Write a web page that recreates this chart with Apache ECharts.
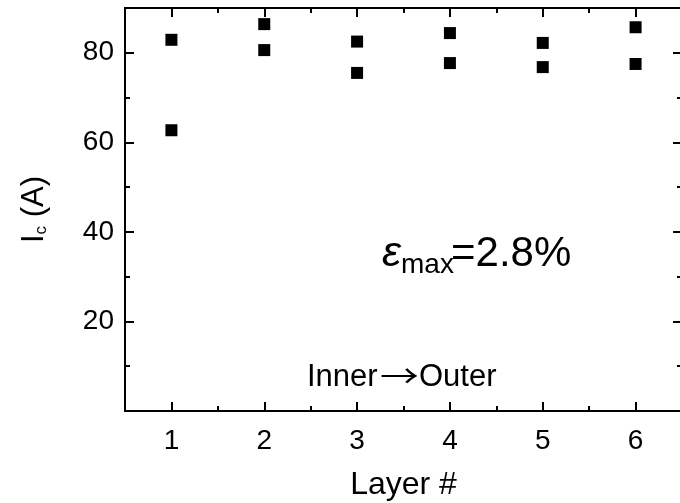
<!DOCTYPE html>
<html>
<head>
<meta charset="utf-8">
<script src="https://cdn.jsdelivr.net/npm/echarts@6/dist/echarts.min.js"></script>
<style>
html,body{margin:0;padding:0;background:#fff;}
#chart{width:680px;height:503px;}
</style>
</head>
<body>
<div id="chart"></div>
<script>
// ---- data ----
const layers = [1, 2, 3, 4, 5, 6];
const icUpper = [82.9, 86.4, 82.5, 84.4, 82.2, 85.7];
const icLower = [62.7, 80.6, 75.5, 77.7, 76.8, 77.5];
const xMajorTicks = [1, 2, 3, 4, 5, 6];
const xMinorTicks = [1.5, 2.5, 3.5, 4.5, 5.5];
const yLabelValues = [20, 40, 60, 80];
const yMajorTicks = [0, 20, 40, 60, 80];
const yMinorTicks = [10, 30, 50, 70];
const xName = 'Layer #';
const noteStrain = '=2.8%';
const noteFrom = 'Inner';
const noteArrow = '\u2192';
const noteTo = 'Outer';

const FONT = 'Liberation Sans, Arial, sans-serif';
const chart = echarts.init(document.getElementById('chart'), null, {renderer: 'canvas'});

function xAx(pos, ticks, len, labels) {
  return {
    type: 'value', position: pos, min: 0.5, max: 6.5,
    axisLine: {show: true, onZero: false, lineStyle: {color: '#000', width: 2}},
    axisTick: {show: true, inside: true, length: len, customValues: ticks, lineStyle: {color: '#000', width: 2}},
    axisLabel: labels ? {show: true, customValues: labels, margin: 16, color: '#000', fontSize: 28, fontFamily: FONT} : {show: false},
    splitLine: {show: false}
  };
}
function yAx(pos, ticks, len, labels) {
  return {
    type: 'value', position: pos, min: 0, max: 90,
    axisLine: {show: true, onZero: false, lineStyle: {color: '#000', width: 2}},
    axisTick: {show: true, inside: true, length: len, customValues: ticks, lineStyle: {color: '#000', width: 2}},
    axisLabel: labels ? {show: true, customValues: labels, margin: 11, color: '#000', fontSize: 28, fontFamily: FONT} : {show: false},
    splitLine: {show: false}
  };
}

const xAxes = [
  Object.assign(xAx('bottom', xMajorTicks, 9, xMajorTicks), {
    name: xName, nameLocation: 'middle', nameGap: 58,
    nameTextStyle: {color: '#000', fontSize: 32, fontFamily: FONT}
  }),
  xAx('bottom', xMinorTicks, 5, null),
  xAx('top', xMajorTicks, 9, null),
  xAx('top', xMinorTicks, 5, null)
];
const yAxes = [
  Object.assign(yAx('left', yMajorTicks, 9, yLabelValues), {
    name: 'I{s|c} (A)', nameLocation: 'middle', nameGap: 75,
    nameTextStyle: {color: '#000', fontSize: 31, fontFamily: FONT, lineHeight: 31,
      rich: {s: {fontSize: 17, fontFamily: FONT, color: '#000', lineHeight: 12, verticalAlign: 'bottom'}}}
  }),
  yAx('left', yMinorTicks, 5, null),
  yAx('right', yMajorTicks, 9, null),
  yAx('right', yMinorTicks, 5, null)
];

const pts = [];
layers.forEach((l, i) => { pts.push([l, icUpper[i]]); pts.push([l, icLower[i]]); });

chart.setOption({
  animation: false,
  backgroundColor: '#fff',
  grid: {left: 125, width: 557, top: 8, bottom: 92, containLabel: false, outerBoundsMode: 'none'},
  xAxis: xAxes,
  yAxis: yAxes,
  series: [{
    type: 'scatter', xAxisIndex: 0, yAxisIndex: 0,
    symbol: 'rect', symbolSize: 12,
    itemStyle: {color: '#000', opacity: 1},
    data: pts
  }],
  graphic: [
    {type: 'text', left: 382, top: 233, style: {text: '\u03b5', font: 'italic 43px ' + FONT, fill: '#000'}},
    {type: 'text', left: 401, top: 251, style: {text: 'max', font: '28px ' + FONT, fill: '#000'}},
    {type: 'text', left: 451, top: 233, style: {text: noteStrain, font: '42px ' + FONT, fill: '#000'}},
    {type: 'text', left: 307, top: 362, style: {text: noteFrom, font: '31px ' + FONT, fill: '#000'}},
    {type: 'text', x: 380, y: 360, scaleX: 1.25, style: {text: noteArrow, font: '31px Noto Sans CJK JP', fill: '#000'}},
    {type: 'text', left: 419, top: 362, style: {text: noteTo, font: '31px ' + FONT, fill: '#000'}}
  ]
});
</script>
</body>
</html>
